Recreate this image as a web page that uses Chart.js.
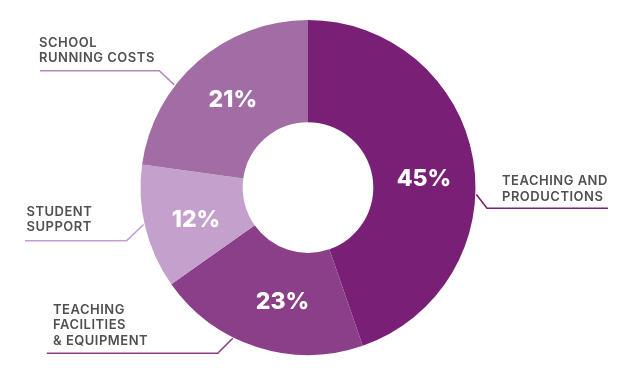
<!DOCTYPE html>
<html>
<head>
<meta charset="utf-8">
<script src="https://cdn.jsdelivr.net/npm/chart.js@4.4.1/dist/chart.umd.min.js"></script>
<style>
  html, body { margin: 0; padding: 0; background: #ffffff; }
  #wrap { position: relative; width: 632px; height: 379px; }
</style>
</head>
<body>
<div id="wrap"><canvas id="c" width="632" height="379"></canvas></div>
<script>
// ---- data ----
const categories = ['Teaching and Productions', 'Teaching Facilities & Equipment', 'Student Support', 'School Running Costs'];
const categoryLines = [['TEACHING AND', 'PRODUCTIONS'], ['TEACHING', 'FACILITIES', '& EQUIPMENT'], ['STUDENT', 'SUPPORT'], ['SCHOOL', 'RUNNING COSTS']];
// arc shares as drawn in the picture (degrees of the ring / 3.6)
const shares = [44.7, 20.5, 12.0, 22.8];
const percentLabels = ['45%', '23%', '12%', '21%'];
const colors = ['#7a1f76', '#8b3f88', '#c4a1cc', '#a26ca4'];
const lineColors = ['#7a1f76', '#8e3f8b', '#c4a1cc', '#b888bc'];

// ---- annotation layout (label text & leader lines) ----
const labelLayout = [
  { x: 502, y: 184.5, lh: 16.7, anchorDeg: 92.4, elbow: [487, 208.3], end: [608, 208.3], frac: 0.53 },
  { x: 53, y: 313.5, lh: 15.7, anchorDeg: 206.5, elbow: [217.7, 353.3], end: [46.7, 353.3], frac: 0.43 },
  { x: 26.5, y: 215.5, lh: 15.6, anchorDeg: 257.3, elbow: [126.7, 240.7], end: [25, 240.7], frac: 0.45 },
  { x: 39, y: 46.8, lh: 15.6, anchorDeg: 307.5, elbow: [159.3, 70.7], end: [40, 70.7], frac: 0.51 }
];

const annotate = {
  id: 'annotate',
  afterDatasetsDraw(chart) {
    const ctx = chart.ctx;
    const meta = chart.getDatasetMeta(0);
    ctx.save();
    // percent labels
    ctx.fillStyle = '#ffffff';
    ctx.font = '800 23px Inter, "Open Sans", sans-serif';
    ctx.textAlign = 'center';
    ctx.textBaseline = 'middle';
    meta.data.forEach((arc, i) => {
      const f = labelLayout[i].frac;
      const ang = arc.startAngle + (arc.endAngle - arc.startAngle) * f;
      const r = (arc.innerRadius + arc.outerRadius) / 2;
      ctx.fillText(percentLabels[i], arc.x + r * Math.cos(ang), arc.y + r * Math.sin(ang) + 1);
    });
    // leader lines + category text
    meta.data.forEach((arc, i) => {
      const L = labelLayout[i];
      const a = (L.anchorDeg - 90) * Math.PI / 180;
      const ax = arc.x + (arc.outerRadius + 1) * Math.cos(a);
      const ay = arc.y + (arc.outerRadius + 1) * Math.sin(a);
      ctx.strokeStyle = lineColors[i];
      ctx.lineWidth = 1.6;
      ctx.beginPath();
      ctx.moveTo(ax, ay);
      ctx.lineTo(L.elbow[0], L.elbow[1]);
      ctx.lineTo(L.end[0], L.end[1]);
      ctx.stroke();
      ctx.fillStyle = '#505050';
      ctx.font = '600 13px Inter, "Open Sans", sans-serif';
      ctx.letterSpacing = '0.5px';
      ctx.textAlign = 'left';
      ctx.textBaseline = 'alphabetic';
      categoryLines[i].forEach((t, k) => {
        ctx.fillText(t, L.x, L.y + k * L.lh);
      });
      ctx.letterSpacing = '0px';
    });
    ctx.restore();
  }
};

new Chart(document.getElementById('c'), {
  type: 'doughnut',
  data: {
    labels: categories,
    datasets: [{
      data: shares,
      backgroundColor: colors,
      borderWidth: 0,
      hoverOffset: 0
    }]
  },
  options: {
    responsive: false,
    animation: false,
    cutout: '39%',
    rotation: 0,
    layout: { padding: { top: 20, bottom: 24, left: 0, right: 16 } },
    plugins: { legend: { display: false }, tooltip: { enabled: false } }
  },
  plugins: [annotate]
});
</script>
</body>
</html>
